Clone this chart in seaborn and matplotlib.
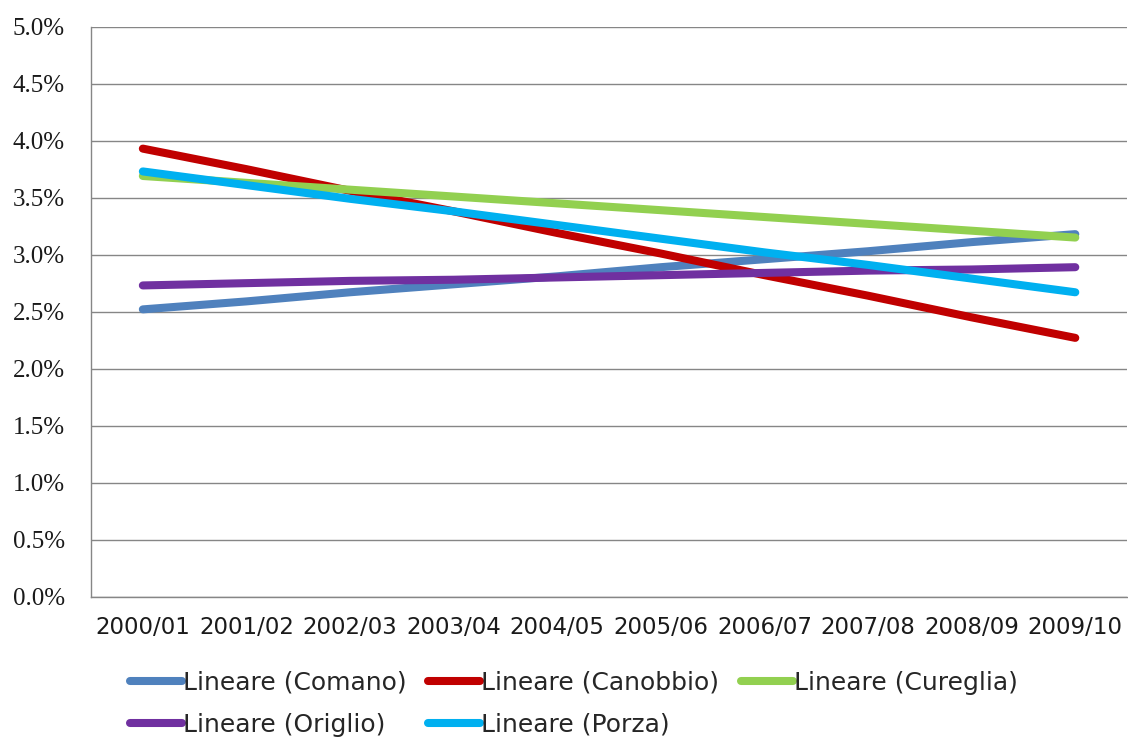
import numpy as np
import pandas as pd
import seaborn as sns
import matplotlib.pyplot as plt
from matplotlib.ticker import FuncFormatter

seasons = ['2000/01', '2001/02', '2002/03', '2003/04', '2004/05',
           '2005/06', '2006/07', '2007/08', '2008/09', '2009/10']

# trend values (share, %)
comano = [2.52, 2.59, 2.67, 2.74, 2.81, 2.89, 2.96, 3.03, 3.11, 3.18]
canobbio = [3.93, 3.75, 3.56, 3.38, 3.19, 3.01, 2.82, 2.64, 2.45, 2.27]
cureglia = [3.69, 3.63, 3.57, 3.51, 3.45, 3.39, 3.33, 3.27, 3.21, 3.15]
origlio = [2.73, 2.75, 2.77, 2.78, 2.80, 2.82, 2.84, 2.86, 2.87, 2.89]
porza = [3.73, 3.61, 3.49, 3.38, 3.26, 3.14, 3.02, 2.91, 2.79, 2.67]

series_names = ['Lineare (Comano)', 'Lineare (Canobbio)', 'Lineare (Cureglia)',
                'Lineare (Origlio)', 'Lineare (Porza)']
colors = ['#4F81BD', '#C00000', '#92D050', '#7030A0', '#00B0F0']

rows = []
for name, vals in zip(series_names, [comano, canobbio, cureglia, origlio, porza]):
    for s, v in zip(seasons, vals):
        rows.append({'Stagione': s, 'Quota': v, 'Serie': name})
df = pd.DataFrame(rows)

sns.set_style('white')
plt.rcParams['font.family'] = ['DejaVu Sans']

fig = plt.figure(figsize=(11.28, 7.38), dpi=100)
ax = fig.add_axes([0.0807, 0.1915, 0.9185, 0.7724])

sns.lineplot(data=df, x='Stagione', y='Quota', hue='Serie', palette=colors,
             hue_order=series_names, sort=False, linewidth=5.8, ax=ax)
for line in ax.lines:
    line.set_solid_capstyle('round')

ax.set_xlim(-0.5, 9.5)
ax.set_ylim(0, 5.0)
ax.set_yticks(np.arange(0, 5.01, 0.5))
ax.yaxis.set_major_formatter(FuncFormatter(lambda v, p: f'{v:.1f}%'))
ax.set_xticks(np.arange(-0.5, 10, 1), minor=True)
ax.set_xticks(range(len(seasons)))
ax.set_xticklabels(seasons)
ax.tick_params(axis='x', which='major', length=0, pad=14, labelsize=16.5, colors='#1a1a1a')
ax.tick_params(axis='x', which='minor', length=7, color='#868686', width=1, direction='out')
ax.tick_params(axis='y', length=7, color='#868686', width=1, direction='out', pad=12)
for lab in ax.get_yticklabels():
    lab.set_fontfamily('Liberation Serif')
    lab.set_fontsize(18)
    lab.set_color('#1a1a1a')

ax.grid(axis='y', color='#868686', linewidth=1)
ax.grid(axis='x', visible=False)
ax.set_axisbelow(True)
for side in ['top', 'right']:
    ax.spines[side].set_visible(False)
for side in ['left', 'bottom']:
    ax.spines[side].set_color('#868686')
    ax.spines[side].set_linewidth(1)
ax.set_xlabel('')
ax.set_ylabel('')

# legend is filled column by column, so reorder to read row by row
handles, labels = ax.get_legend_handles_labels()
ax.get_legend().remove()
order = [0, 3, 1, 4, 2]
leg = fig.legend([handles[i] for i in order], [labels[i] for i in order],
                 loc='upper left', bbox_to_anchor=(0.1152, 0.091),
                 ncol=3, frameon=False, fontsize=18, handlelength=2.08,
                 handletextpad=0.05, columnspacing=0.85, labelspacing=0.72,
                 borderpad=0, borderaxespad=0)
for h in leg.legend_handles:
    h.set_linewidth(5.8)
    h.set_solid_capstyle('round')

fig.savefig('out.png', dpi=100)
